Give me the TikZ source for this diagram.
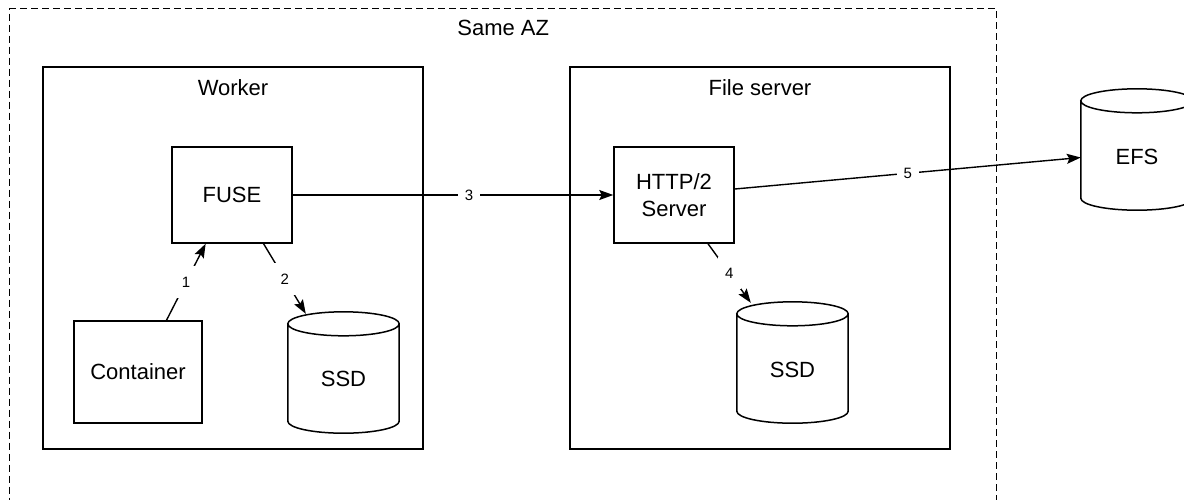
\documentclass[tikz,border=0pt]{standalone}
\usepackage{fontspec}
\setmainfont{Liberation Sans}
\usetikzlibrary{arrows.meta,calc}

% Outline of a storage cylinder around the extent of node #1, cap half-height #2
\newcommand\drawcyl[2]{%
  \draw[line width=1.5pt]
    let \p1=(#1.north west), \p2=(#1.south east), \n1={(\x2-\x1)/2} in
    (\x1,\y1-#2) -- (\x1,\y2+#2)
      arc[start angle=180,end angle=360,x radius=\n1,y radius=#2]
      -- (\x2,\y1-#2)
      arc[start angle=0,end angle=180,x radius=\n1,y radius=#2]
      arc[start angle=180,end angle=360,x radius=\n1,y radius=#2];
}

\begin{document}
\begin{tikzpicture}[x=1pt,y=-1pt,
  every node/.style={font=\fontsize{22}{27}\selectfont},
  zone/.style={draw, line width=1.4pt, dash pattern=on 7pt off 4pt, inner sep=0pt},
  frame/.style={draw, line width=1.5pt, inner sep=0pt, minimum width=380pt, minimum height=382pt},
  box/.style={draw, line width=1.5pt, inner sep=0pt, align=center},
  title/.style={inner sep=0pt},
  cyl/.style={draw=none, inner sep=0pt},
  cyltext/.style={inner sep=0pt},
  arr/.style={line width=1.4pt, -{Stealth[length=14pt,width=10pt,inset=2.5pt]}},
  lbl/.style={fill=white, font=\fontsize{15}{15}\selectfont, inner xsep=7pt, inner ysep=11pt}
]
\useasboundingbox (0,0) rectangle (1184,499);
\clip (0,0) rectangle (1184,499);

% availability zone (open at the bottom edge)
\node[zone, minimum width=987pt, minimum height=540pt, anchor=north west] (az) at (9,8) {};
\node[title] (aztitle) at ($(az.north)+(0,20)$) {Same AZ};

% worker host
\node[frame] (worker) at (233,258) {};
\node[title] (workertitle) at ($(worker.north)+(0,21)$) {Worker};
\node[box, minimum width=120pt, minimum height=96pt] (fuse) at (232,195) {FUSE};
\node[box, minimum width=128pt, minimum height=102pt] (container) at (138,372) {Container};
\node[cyl, minimum width=111pt, minimum height=121pt] (ssd1) at (343.5,372.5) {};
\drawcyl{ssd1}{12pt}
\node[cyltext] (ssd1text) at ($(ssd1.center)+(0,6)$) {SSD};

% file server host
\node[frame] (fileserver) at (760,258) {};
\node[title] (fstitle) at ($(fileserver.north)+(0,21)$) {File server};
\node[box, minimum width=120pt, minimum height=96pt] (http) at (674,195) {HTTP/2\\Server};
\node[cyl, minimum width=111pt, minimum height=121pt] (ssd2) at (792.5,362.5) {};
\drawcyl{ssd2}{12pt}
\node[cyltext] (ssd2text) at ($(ssd2.center)+(0,7)$) {SSD};

% shared file system
\node[cyl, minimum width=112pt, minimum height=121pt] (efs) at (1137,149.5) {};
\drawcyl{efs}{12pt}
\node[cyltext] (efstext) at ($(efs.center)+(0,7)$) {EFS};

% data path
\coordinate (c1) at ($(container.north west)!0.72!(container.north east)$);
\coordinate (f1) at ($(fuse.south west)!0.283!(fuse.south east)$);
\coordinate (f2) at ($(fuse.south west)!0.76!(fuse.south east)$);
\coordinate (s1) at ($(ssd1.north west)+(18,2)$);
\coordinate (h4) at ($(http.south west)!0.78!(http.south east)$);
\coordinate (s2) at ($(ssd2.north west)+(14,1)$);
\coordinate (h5) at ($(http.east)+(0,-6)$);
\coordinate (e5) at ($(efs.west)+(0,8)$);

\draw[arr] (c1) -- node[lbl] {1} (f1);
\draw[arr] (f2) -- node[lbl] {2} (s1);
\draw[arr] (fuse.east) -- node[lbl, pos=0.55] {3} (http.west);
\draw[arr] (h4) -- node[lbl] {4} (s2);
\draw[arr] (h5) -- node[lbl] {5} (e5);
\end{tikzpicture}
\end{document}
